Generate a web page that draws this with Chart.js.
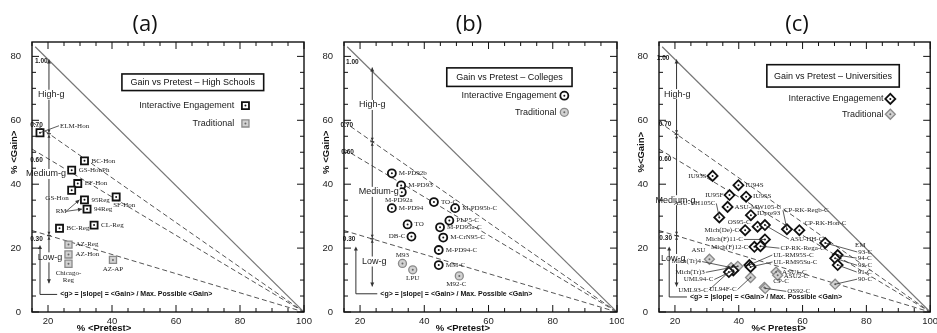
<!DOCTYPE html>
<html>
<head>
<meta charset="utf-8">
<script src="https://cdn.jsdelivr.net/npm/chart.js@4.4.0/dist/chart.umd.min.js"></script>
<style>
body { margin: 0; background: #fff; }
#wrap { position: relative; width: 937px; height: 333px; overflow: hidden; }
canvas { position: absolute; top: 0; }
.ttl { position: absolute; top: 7px; width: 60px; text-align: center; font: 22px "Open Sans", sans-serif; color: #111; line-height: 30px; }
</style>
</head>
<body>
<div id="wrap">
  <canvas id="ca" width="312" height="333" style="left:0"></canvas>
  <canvas id="cb" width="312" height="333" style="left:312px"></canvas>
  <canvas id="cc" width="313" height="333" style="left:624px"></canvas>
  <div class="ttl" style="left:115px">(a)</div>
  <div class="ttl" style="left:439px">(b)</div>
  <div class="ttl" style="left:767px">(c)</div>
</div>
<script>
// axis ticks (same for all three panels)
var xTicks = [20, 40, 60, 80, 100];
var yTicks = [0, 20, 40, 60, 80];

// isogain lines <g> = 1.00, 0.70, 0.60, 0.30 (start point, all end at 100,0)
var isoG = ['1.00', '0.70', '0.60', '0.30'];
var isoStartPre = [16, 15, 15, 15];
var isoStartGain = [83, 59.5, 51, 25.5];

// (a) high schools
var hsIeNames = ['ELM-Hon', 'BC-Hon', 'GS-HonPh', 'EF-Hon', 'GS-Hon', '95Reg', '94Reg', 'SF-Hon', 'CL-Reg', 'BC-Reg'];
var hsIePre   = [17.5, 31.4, 27.4, 29.3, 27.4, 31.4, 32.2, 41.3, 34.4, 23.6];
var hsIeGain  = [56.1, 47.3, 44.4, 40.2, 38.1, 35.1, 32.2, 36.0, 27.2, 26.2];
var hsTrNames = ['AZ-Reg', 'AZ-Hon', 'Chicago-Reg', 'AZ-AP'];
var hsTrPre   = [26.4, 26.4, 26.4, 40.3];
var hsTrGain  = [21.1, 18.0, 15.1, 16.3];

// (b) colleges
var colIeNames = ['M-PD92b', 'M-PD93', 'M-PD92a', 'TO-C', 'M-PD94', 'M-PD95b-C', 'PLP5-C', 'TO', 'M-PD95a-C', 'M-CrN95-C', 'DB-C', 'M-PD94-C', 'MM-C'];
var colIePre   = [29.9, 32.8, 33.0, 43.0, 29.9, 49.6, 47.8, 34.8, 44.9, 45.9, 36.0, 44.5, 44.5];
var colIeGain  = [43.4, 39.6, 37.5, 34.4, 32.5, 32.5, 28.6, 27.4, 26.5, 23.3, 23.6, 19.4, 14.7];
var colTrNames = ['M93', 'LPU', 'M92-C'];
var colTrPre   = [33.2, 36.4, 50.9];
var colTrGain  = [15.2, 13.2, 11.3];

// (c) universities
var uniIeNames = ['IU93S', 'IU94S', 'IU95F', 'IU95S', 'ASU-MW105-C', 'ASU-VH105-C', 'IUpre93', 'OS95-C', 'ASU-HH-C', 'Mich(De)-C',
                  'CP-RK-Regb-C', 'CP-RK-Hon-C', 'Mich(F)11-C', 'Mich(F)12-C', 'CP-RK-Rega-C', '93-C', '94-C', '92-C', '91-C',
                  'UL-RM95S-C', 'UL-RM95Su-C', 'UML94-C', 'UML93-C'];
var uniIePre   = [31.8, 39.9, 37.1, 42.3, 36.5, 33.9, 43.8, 45.9, 48.2, 42.0,
                  55.1, 59.0, 48.2, 44.9, 46.8, 67.1, 71.0, 70.2, 71.0,
                  43.3, 43.7, 38.3, 36.9];
var uniIeGain  = [42.6, 39.7, 36.6, 36.1, 32.9, 29.6, 30.3, 26.7, 27.2, 25.6,
                  25.9, 25.6, 22.7, 20.4, 20.6, 21.6, 17.8, 16.8, 14.7,
                  14.7, 14.1, 13.0, 12.5];
var uniTrNames = ['90-C', 'ASU', 'Mich(Tr)4', 'Mich(Tr)3', 'UL94F-C', 'CP-C', 'OS92-C', 'ASU1-C', 'ASU2-C'];
var uniTrPre   = [70.2, 30.8, 37.6, 39.7, 43.7, 48.0, 48.3, 51.7, 52.2];
var uniTrGain  = [8.7, 16.5, 13.9, 14.3, 10.8, 7.7, 7.4, 12.5, 11.5];

var SANS = '"Liberation Sans", Arial, sans-serif';
var SERIF = '"Liberation Serif", "Times New Roman", serif';

// label placement: [dx, dy, align, leader line, text override]
var panelCfg = {
  ca: {
    left: 32, right: 8, mark: 'rect', r: 5, yTitle: '% <Gain>', xTitle: '% <Pretest>', xTitleAt: 37.5,
    legend: { title: 'Gain vs Pretest \u2013 High Schools', box: [43.1, 87.4, 69.3, 74.5], rows: [64.6, 59.0], textX: 78.2, markX: 81.7 },
    arrow: { x: 20.3, top: 79, bot: 9, cross: [55.8, 23.9] },
    regions: [['High-g', 21.0, 68], ['Medium-g', 19.4, 43.2], ['Low-g', 20.6, 17.1]],
    gLab: [[17.9, 78.6], [16.4, 58.4], [16.4, 47.6], [16.4, 22.9]],
    bracket: { x: 17.5, top: 21, bot: 5.5, textX: 23.8 },
    texts: [],
    pointers: [{ text: 'RM', x: 24.1, y: 31.5, to: ['95Reg', '94Reg'] }],
    lab: {
      'ELM-Hon': [20, -7, 'left', 1],
      'GS-Hon': [-3, 8, 'right', 0],
      'SF-Hon': [-3, 8, 'left', 0],
      'Chicago-Reg': [0, 9, 'center', 0, 'Chicago-\nReg'],
      'AZ-AP': [0, 9, 'center', 0]
    }
  },
  cb: {
    left: 32, right: 7, mark: 'circle', r: 4, yTitle: '% <Gain>', xTitle: '% <Pretest>', xTitleAt: 52,
    legend: { title: 'Gain vs Pretest \u2013 Colleges', box: [47.0, 86.0, 70.6, 76.4], rows: [67.7, 62.5], textX: 81.2, markX: 83.6 },
    arrow: { x: 23.8, top: 76.5, bot: 8, cross: [53.3, 22.9] },
    regions: [['High-g', 23.8, 64.8], ['Medium-g', 25.8, 37.6], ['Low-g', 24.4, 15.8]],
    gLab: [[17.6, 78.3], [15.9, 58.5], [16.1, 50.0], [16.6, 22.7]],
    bracket: { x: 18.7, top: 20.5, bot: 5.7, textX: 26.3 },
    texts: [],
    pointers: [],
    lab: {
      'M-PD92a': [-3, 8, 'center', 0],
      'DB-C': [-6, 0, 'right', 0],
      'M93': [0, -8, 'center', 0],
      'LPU': [0, 8, 'center', 0],
      'M92-C': [-3, 8, 'center', 0]
    }
  },
  cc: {
    left: 35, right: 5, mark: 'rectRot', r: 5, yTitle: '%<Gain>', xTitle: '%< Pretest>', xTitleAt: 52.5,
    legend: { title: 'Gain vs Pretest \u2013 Universities', box: [48.8, 90.3, 70.4, 77.4], rows: [66.7, 61.9], textX: 85.4, markX: 87.5 },
    arrow: { x: 20.5, top: 79, bot: 8, cross: [55.6, 23.9] },
    regions: [['High-g', 20.7, 68.2], ['Medium-g', 20.2, 35.0], ['Low-g', 19.5, 16.6]],
    gLab: [[16.3, 79.5], [16.9, 58.9], [16.9, 47.8], [17.1, 23.0]],
    bracket: { x: 18.2, top: 20.5, bot: 4.7, textX: 24.7 },
    texts: [['EM', 76.4, 20.9]],
    pointers: [],
    lab: {
      'IU93S': [-6, 0, 'right', 0],
      'IU95F': [-6, 0, 'right', 0],
      'ASU-VH105-C': [-4, -14, 'right', 1, 'ASU-VH105C'],
      'IUpre93': [6, -2, 'left', 0],
      'OS95-C': [-7, -5, 'right', 0],
      'ASU-HH-C': [25, 14, 'left', 1],
      'Mich(De)-C': [-6, 0, 'right', 0],
      'CP-RK-Regb-C': [-3, -19, 'left', 1],
      'CP-RK-Hon-C': [5, -7, 'left', 0],
      'Mich(F)11-C': [-22, 0, 'right', 1],
      'Mich(F)12-C': [-6, 0, 'right', 0],
      'CP-RK-Rega-C': [20, 2, 'left', 1],
      '93-C': [33, 9, 'left', 1],
      '94-C': [20, 3, 'left', 1],
      '92-C': [23, 7, 'left', 1],
      '91-C': [20, 7, 'left', 1],
      '90-C': [23, -5, 'left', 1],
      'ASU': [-4, -9, 'right', 0],
      'Mich(Tr)4': [-30, -6, 'right', 1],
      'Mich(Tr)3': [-33, 6, 'right', 1],
      'UML94-C': [-20, 9, 'right', 1],
      'UML93-C': [-21, 18, 'right', 1],
      'UL-RM95S-C': [24, -10, 'left', 1],
      'UL-RM95Su-C': [23, -5, 'left', 1],
      'UL94F-C': [-14, 12, 'right', 1],
      'CP-C': [9, -6, 'left', 0],
      'OS92-C': [22, 3, 'left', 1],
      'ASU1-C': [6, 0, 'left', 0],
      'ASU2-C': [6, 1, 'left', 0]
    }
  }
};

function pts(xs, ys) {
  return xs.map(function (x, i) { return { x: x, y: ys[i] }; });
}

function drawMark(ctx, style, x, y, r) {
  ctx.beginPath();
  if (style === 'rect') {
    var s = r * Math.SQRT1_2;
    ctx.rect(x - s, y - s, 2 * s, 2 * s);
  } else if (style === 'circle') {
    ctx.arc(x, y, r, 0, Math.PI * 2);
  } else {
    ctx.moveTo(x - r, y); ctx.lineTo(x, y - r); ctx.lineTo(x + r, y); ctx.lineTo(x, y + r); ctx.closePath();
  }
  ctx.fill();
  ctx.stroke();
}

function arrowHead(ctx, x, y, dir, size) {
  // dir: 1 = pointing up, -1 = pointing down, 2 = pointing right
  ctx.beginPath();
  if (dir === 2) {
    ctx.moveTo(x, y); ctx.lineTo(x - size, y - size / 2); ctx.lineTo(x - size, y + size / 2);
  } else {
    ctx.moveTo(x, y); ctx.lineTo(x - size / 2, y + dir * size); ctx.lineTo(x + size / 2, y + dir * size);
  }
  ctx.closePath();
  ctx.fill();
}

var deco = {
  id: 'deco',
  afterDatasetsDraw: function (chart) {
    var c = panelCfg[chart.canvas.id];
    var ctx = chart.ctx;
    var X = function (v) { return chart.scales.x.getPixelForValue(v); };
    var Y = function (v) { return chart.scales.y.getPixelForValue(v); };
    ctx.save();

    // isogain labels
    ctx.fillStyle = '#222';
    ctx.font = 'bold 6.5px ' + SANS;
    ctx.textAlign = 'center';
    ctx.textBaseline = 'middle';
    c.gLab.forEach(function (g, i) { ctx.fillText(isoG[i], X(g[0]), Y(g[1])); });

    // vertical double arrow with g regions
    var A = c.arrow;
    ctx.strokeStyle = '#333';
    ctx.lineWidth = 1;
    ctx.beginPath();
    ctx.moveTo(X(A.x), Y(A.top)); ctx.lineTo(X(A.x), Y(A.bot));
    ctx.stroke();
    ctx.fillStyle = '#333';
    arrowHead(ctx, X(A.x), Y(A.top), 1, 4);
    arrowHead(ctx, X(A.x), Y(A.bot), -1, 4);
    A.cross.forEach(function (v) {
      ctx.beginPath();
      ctx.moveTo(X(A.x) - 2, Y(v)); ctx.lineTo(X(A.x) + 2, Y(v));
      ctx.stroke();
      arrowHead(ctx, X(A.x), Y(v) - 1, -1, 3);
      arrowHead(ctx, X(A.x), Y(v) + 1, 1, 3);
    });
    ctx.font = '9px ' + SANS;
    c.regions.forEach(function (t) {
      var w = ctx.measureText(t[0]).width;
      ctx.fillStyle = '#fff';
      ctx.fillRect(X(t[1]) - w / 2 - 1, Y(t[2]) - 5, w + 2, 10);
      ctx.fillStyle = '#222';
      ctx.fillText(t[0], X(t[1]), Y(t[2]));
    });

    // bracket for the <g> definition
    var B = c.bracket;
    ctx.beginPath();
    ctx.moveTo(X(B.x), Y(B.top) + 3); ctx.lineTo(X(B.x), Y(B.bot)); ctx.lineTo(X(B.textX) - 3, Y(B.bot));
    ctx.stroke();
    ctx.fillStyle = '#333';
    arrowHead(ctx, X(B.x), Y(B.top), 1, 4);
    ctx.fillStyle = '#111';
    ctx.font = 'bold 7px ' + SANS;
    ctx.textAlign = 'left';
    ctx.fillText('<g> = |slope| = <Gain> / Max. Possible <Gain>', X(B.textX), Y(B.bot));

    // centre dots and point labels
    var byName = {};
    chart.data.datasets.forEach(function (ds, i) {
      if (!ds.names) return;
      var meta = chart.getDatasetMeta(i);
      meta.data.forEach(function (el, j) {
        byName[ds.names[j]] = el;
        ctx.fillStyle = i === 0 ? '#111' : '#666';
        ctx.beginPath();
        ctx.arc(el.x, el.y, 1, 0, Math.PI * 2);
        ctx.fill();
      });
    });
    ctx.font = '7px ' + SERIF;
    ctx.fillStyle = '#222';
    ctx.strokeStyle = '#333';
    ctx.lineWidth = 0.8;
    Object.keys(byName).forEach(function (name) {
      var el = byName[name];
      var p = c.lab[name] || [7, 0, 'left', 0];
      var tx = el.x + p[0], ty = el.y + p[1];
      if (p[3]) {
        ctx.beginPath();
        ctx.moveTo(el.x, el.y);
        ctx.lineTo(p[2] === 'right' ? tx + 1 : tx - 1, ty);
        ctx.stroke();
      }
      ctx.textAlign = p[2];
      var lines = (p[4] || name).split('\n');
      lines.forEach(function (s, k) { ctx.fillText(s, tx, ty + k * 7); });
    });
    c.texts.forEach(function (t) {
      ctx.textAlign = 'left';
      ctx.fillText(t[0], X(t[1]), Y(t[2]));
    });
    c.pointers.forEach(function (pt) {
      ctx.textAlign = 'center';
      ctx.fillText(pt.text, X(pt.x), Y(pt.y));
      pt.to.forEach(function (n) {
        var el = byName[n];
        var sx = X(pt.x) + 5, sy = Y(pt.y);
        var ex = el.x - 5, ey = el.y;
        ctx.beginPath(); ctx.moveTo(sx, sy); ctx.lineTo(ex, ey); ctx.stroke();
        var ang = Math.atan2(ey - sy, ex - sx);
        ctx.save();
        ctx.translate(ex, ey); ctx.rotate(ang);
        ctx.fillStyle = '#333';
        arrowHead(ctx, 0, 0, 2, 4);
        ctx.restore();
      });
    });

    // legend box
    var L = c.legend;
    var bx1 = X(L.box[0]), bx2 = X(L.box[1]), by1 = Y(L.box[3]), by2 = Y(L.box[2]);
    ctx.fillStyle = '#fff';
    ctx.fillRect(bx1, by1, bx2 - bx1, by2 - by1);
    ctx.strokeStyle = '#111';
    ctx.lineWidth = 1.6;
    ctx.strokeRect(bx1, by1, bx2 - bx1, by2 - by1);
    ctx.fillStyle = '#111';
    ctx.font = '9px ' + SANS;
    ctx.textAlign = 'center';
    ctx.fillText(L.title, (bx1 + bx2) / 2, (by1 + by2) / 2 + 0.5);
    var dsets = chart.data.datasets;
    [0, 1].forEach(function (i) {
      var ds = dsets[i];
      ctx.fillStyle = '#222';
      ctx.textAlign = 'right';
      ctx.fillText(ds.label, X(L.textX), Y(L.rows[i]));
      ctx.fillStyle = ds.backgroundColor;
      ctx.strokeStyle = ds.borderColor;
      ctx.lineWidth = ds.borderWidth;
      drawMark(ctx, c.mark, X(L.markX), Y(L.rows[i]), c.r);
      ctx.fillStyle = i === 0 ? '#111' : '#666';
      ctx.beginPath(); ctx.arc(X(L.markX), Y(L.rows[i]), 1, 0, Math.PI * 2); ctx.fill();
    });
    ctx.restore();
  },
  afterDraw: function (chart) {
    var c = panelCfg[chart.canvas.id];
    var ctx = chart.ctx, a = chart.chartArea;
    var X = function (v) { return chart.scales.x.getPixelForValue(v); };
    var Y = function (v) { return chart.scales.y.getPixelForValue(v); };
    ctx.save();
    ctx.strokeStyle = '#111';
    ctx.lineWidth = 1.4;
    ctx.strokeRect(a.left, a.top, a.right - a.left, a.bottom - a.top);
    ctx.lineWidth = 1;
    ctx.beginPath();
    for (var v = 15; v <= 100; v += 5) {
      var len = v % 20 === 0 ? 7 : 4, x = X(v);
      ctx.moveTo(x, a.bottom); ctx.lineTo(x, a.bottom - len);
      ctx.moveTo(x, a.top); ctx.lineTo(x, a.top + len);
    }
    for (var w = 0; w <= 80; w += 5) {
      var len2 = w % 20 === 0 ? 7 : 4, y = Y(w);
      ctx.moveTo(a.left, y); ctx.lineTo(a.left + len2, y);
      ctx.moveTo(a.right, y); ctx.lineTo(a.right - len2, y);
    }
    ctx.stroke();

    // axis titles
    ctx.fillStyle = '#111';
    ctx.font = 'bold 9.5px ' + SANS;
    ctx.textAlign = 'center';
    ctx.textBaseline = 'middle';
    ctx.fillText(c.xTitle, X(c.xTitleAt), 328.5);
    ctx.translate(X(9.5), Y(50));
    ctx.rotate(-Math.PI / 2);
    ctx.fillText(c.yTitle, 0, 0);
    ctx.restore();
  }
};

function makeChart(id, ieNames, iePre, ieGain, trNames, trPre, trGain) {
  var c = panelCfg[id];
  var datasets = [
    { label: 'Interactive Engagement', names: ieNames, data: pts(iePre, ieGain), pointStyle: c.mark, pointRadius: c.r,
      backgroundColor: '#ffffff', borderColor: '#111111', borderWidth: 1.8 },
    { label: 'Traditional', names: trNames, data: pts(trPre, trGain), pointStyle: c.mark, pointRadius: c.r,
      backgroundColor: '#d2d2d2', borderColor: '#8a8a8a', borderWidth: 1.3 }
  ];
  isoG.forEach(function (g, i) {
    datasets.push({
      label: 'g = ' + g, data: [{ x: isoStartPre[i], y: isoStartGain[i] }, { x: 100, y: 0 }],
      showLine: true, pointRadius: 0, fill: false,
      borderColor: i === 0 ? '#777' : '#555', borderWidth: i === 0 ? 1.2 : 1,
      borderDash: i === 0 ? [] : [5, 3]
    });
  });
  return new Chart(document.getElementById(id).getContext('2d'), {
    type: 'scatter',
    data: { datasets: datasets },
    options: {
      responsive: false,
      animation: false,
      events: [],
      layout: { padding: { left: 0, right: c.right, top: 42, bottom: 0 } },
      scales: {
        x: {
          type: 'linear', min: 15, max: 100,
          afterBuildTicks: function (s) { s.ticks = xTicks.map(function (v) { return { value: v }; }); },
          afterFit: function (s) { s.height = 21; s.paddingLeft = 0; s.paddingRight = 0; },
          ticks: { font: { size: 9.5, family: SANS }, color: '#222', padding: -4, maxRotation: 0, autoSkip: false },
          grid: { display: false },
          border: { display: false }
        },
        y: {
          type: 'linear', min: 0, max: 84.5,
          afterBuildTicks: function (s) { s.ticks = yTicks.map(function (v) { return { value: v }; }); },
          afterFit: function (s) { s.width = c.left; s.paddingTop = 0; s.paddingBottom = 0; },
          ticks: { font: { size: 9.5, family: SANS }, color: '#222', padding: 3, autoSkip: false },
          grid: { display: false },
          border: { display: false }
        }
      },
      plugins: {
        legend: { display: false },
        tooltip: { enabled: false }
      }
    },
    plugins: [deco]
  });
}

makeChart('ca', hsIeNames, hsIePre, hsIeGain, hsTrNames, hsTrPre, hsTrGain);
makeChart('cb', colIeNames, colIePre, colIeGain, colTrNames, colTrPre, colTrGain);
makeChart('cc', uniIeNames, uniIePre, uniIeGain, uniTrNames, uniTrPre, uniTrGain);
</script>
</body>
</html>
